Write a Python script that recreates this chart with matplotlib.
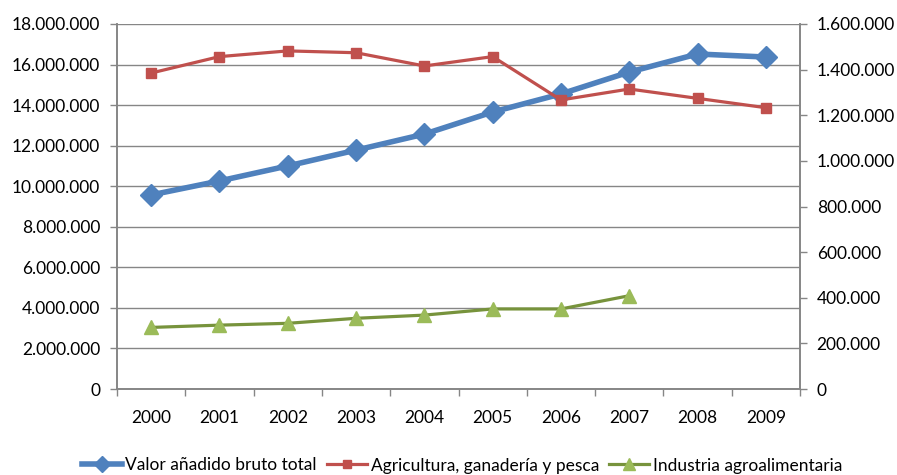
import matplotlib.pyplot as plt
from matplotlib.ticker import FuncFormatter, MultipleLocator, FixedLocator

plt.rcParams['font.family'] = ['Lato', 'DejaVu Sans']

years = ['2000', '2001', '2002', '2003', '2004', '2005', '2006', '2007', '2008', '2009']
vab_total = [9570000, 10260000, 11000000, 11780000, 12570000, 13660000,
             14550000, 15630000, 16520000, 16370000]
agricultura = [1385000, 1457000, 1482000, 1474000, 1416000, 1457000,
               1267000, 1315000, 1274000, 1233000]
industria = [270000, 280000, 288000, 310000, 324000, 351000, 351000, 409000]

labels = ['Valor añadido bruto total', 'Agricultura, ganadería y pesca',
          'Industria agroalimentaria']

GRAY = '#868686'
FS = 12.5


def miles(v, pos):
    return '{:,.0f}'.format(v).replace(',', '.')


fig = plt.figure(figsize=(8.97, 4.75), dpi=100)
ax = fig.add_subplot(111)
ax2 = ax.twinx()
plt.subplots_adjust(left=0.1304, right=0.8919, top=0.9495, bottom=0.181)

x = list(range(len(years)))
l1, = ax.plot(x, vab_total, color='#4F81BD', lw=4, marker='D', ms=11,
              markeredgecolor='#4F81BD', label=labels[0], zorder=3)
l2, = ax2.plot(x, agricultura, color='#C0504D', lw=2.3, marker='s', ms=6.5,
               label=labels[1])
l3, = ax2.plot(x[:len(industria)], industria, color='#77933C', lw=2.3,
               marker='^', ms=10, markerfacecolor='#9BBB59',
               markeredgecolor='#9BBB59', label=labels[2])

ax.set_xlim(-0.5, len(years) - 0.5)
ax.set_ylim(0, 18000000)
ax2.set_ylim(0, 1600000)
ax.yaxis.set_major_locator(MultipleLocator(2000000))
ax2.yaxis.set_major_locator(MultipleLocator(200000))
ax.yaxis.set_major_formatter(FuncFormatter(miles))
ax2.yaxis.set_major_formatter(FuncFormatter(miles))

ax.set_xticks(x)
ax.set_xticklabels(years)
ax.xaxis.set_minor_locator(FixedLocator([i - 0.5 for i in range(len(years) + 1)]))
ax.tick_params(axis='x', which='major', length=0, pad=15, labelsize=FS)
ax.tick_params(axis='x', which='minor', length=5, color=GRAY, width=1)
ax.tick_params(axis='y', length=5, color=GRAY, width=1, pad=7, labelsize=FS)
ax2.tick_params(axis='y', length=5, color=GRAY, width=1, pad=7, labelsize=FS)

ax.grid(axis='y', color=GRAY, lw=1)
ax.set_axisbelow(True)
for a in (ax, ax2):
    a.spines['top'].set_visible(False)
    for s in ('left', 'right', 'bottom'):
        a.spines[s].set_color(GRAY)
        a.spines[s].set_linewidth(1.2)

leg = fig.legend(handles=[l1, l2, l3], loc='center', bbox_to_anchor=(0.515, 0.02),
                 ncol=3, frameon=False, fontsize=FS, handlelength=2.3,
                 handletextpad=0.2, columnspacing=0.6)
for h, ms in zip(leg.legend_handles, [8, 6, 8]):
    h.set_markersize(ms)

fig.savefig('out.png', dpi=100)
